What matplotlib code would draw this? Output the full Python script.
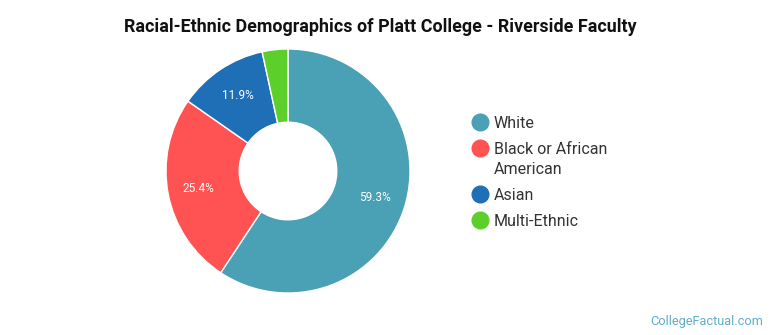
import matplotlib
matplotlib.use("Agg")
import matplotlib.pyplot as plt
from matplotlib.lines import Line2D
import numpy as np

plt.rcParams['font.family'] = ['Roboto', 'DejaVu Sans']

categories = ["White", "Black or African\nAmerican", "Asian", "Multi-Ethnic"]
values = [59.3, 25.4, 11.9, 3.4]
colors = ["#4aa0b4", "#ff5252", "#1f6fb7", "#5ccf2a"]
title = "Racial-Ethnic Demographics of Platt College - Riverside Faculty"

W, H = 770, 335
fig = plt.figure(figsize=(W/100, H/100), dpi=100)

cx, cy, r = 288, 171, 122
ax = fig.add_axes([(cx - r)/W, (H - cy - r)/H, 2*r/W, 2*r/H])
wedges, texts = ax.pie(values, colors=colors, startangle=90, counterclock=False,
                       radius=1.0,
                       wedgeprops=dict(width=0.6, edgecolor="white", linewidth=1))
ang0 = 90.0
total = sum(values)
for v in values:
    span = 360.0 * v / total
    mid = np.deg2rad(ang0 - span/2)
    ang0 -= span
    if v >= 5:
        ax.text(0.745*np.cos(mid), 0.745*np.sin(mid), f"{v}%", ha="center", va="center",
                color="white", fontsize=8.5)
ax.set_xlim(-1, 1); ax.set_ylim(-1, 1)
ax.set_aspect("equal")
ax.axis("off")

fig.text(380/W, 1 - 27/H, title, ha="center", va="center", fontsize=12.9,
         fontweight="bold", color="#111111")

ys = [122, 148, 194, 220]
for lab, col, y in zip(categories, colors, ys):
    fig.add_artist(Line2D([480/W], [1 - y/H], marker="o", markersize=12,
                          color=col, transform=fig.transFigure))
    fig.text(494/W, 1 - (y - 6)/H, lab, ha="left", va="top", fontsize=11.5,
             color="#333333", linespacing=1.45)

fig.text(763/W, 1 - 321/H, "CollegeFactual.com", ha="right", va="center",
         fontsize=9.2, color="#5fadcc")

fig.savefig("out.png", dpi=100, facecolor="white")
